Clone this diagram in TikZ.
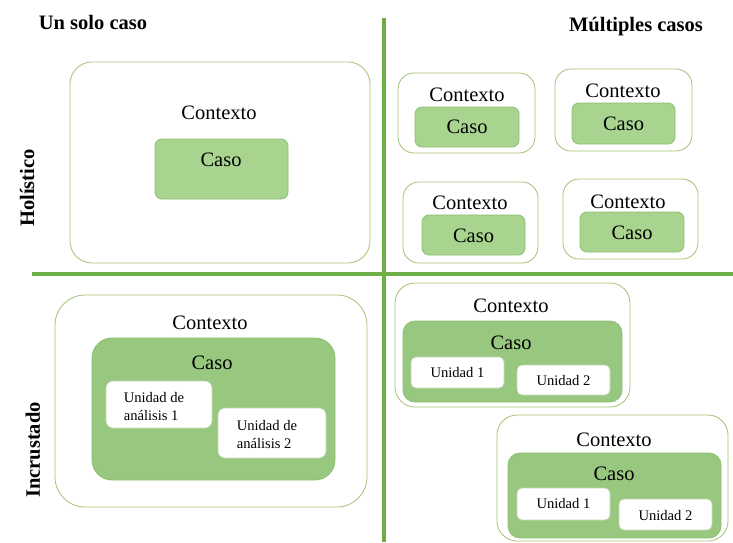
\documentclass[tikz,border=0pt]{standalone}
\usepackage{fontspec}
\setmainfont{Liberation Serif}
\definecolor{axisgreen}{HTML}{6DAE45}
\definecolor{ctxline}{HTML}{A3C274}
\definecolor{casofill}{HTML}{A8D490}
\definecolor{casoline}{HTML}{8CBF70}
\definecolor{casofilldeep}{HTML}{98C880}
\definecolor{unitline}{HTML}{BFD8AE}
\begin{document}
\begin{tikzpicture}[x=1pt,y=-1pt,
  ctx/.style={draw=ctxline, line width=0.8pt, fill=white, rounded corners=#1, inner sep=0pt},
  ctx/.default=16pt,
  caso/.style={draw=casoline, line width=0.8pt, fill=casofill, rounded corners=#1, inner sep=0pt},
  caso/.default=7pt,
  casodeep/.style={caso=#1, fill=casofilldeep},
  casodeep/.default=12pt,
  unitbox/.style={draw=unitline, line width=0.6pt, fill=white, rounded corners=5pt, inner sep=0pt},
  lbl/.style={font=\fontsize{20.5}{23}\selectfont, inner sep=0pt},
  ulbl/.style={font=\fontsize{14.6}{18}\selectfont, inner sep=0pt},
  head/.style={font=\fontsize{20.5}{23}\selectfont\bfseries, inner sep=0pt},
  axis/.style={draw=axisgreen, line width=4.5pt}
]
\useasboundingbox (0,0) rectangle (733,542);

% quadrant axes
\coordinate (vtop) at (384,18);
\coordinate (vbot) at (384,542);
\coordinate (hleft) at (32,274);
\coordinate (hright) at (733,274);
\draw[axis] (vtop) -- (vbot);
\draw[axis] (hleft) -- (hright);

% headings
\node[head] (h1) at (93,22) {Un solo caso};
\node[head] (h2) at (636,27) {Múltiples casos};
\node[head, rotate=90] (h3) at (27,188) {Holístico};
\node[head, rotate=90] (h4) at (33,450) {Incrustado};

% holistic, single case
\node[ctx=22pt, minimum width=300pt, minimum height=201pt] (c0) at (220,162.5) {};
\node[lbl] (c0t) at (219,113) {Contexto};
\node[caso, minimum width=133pt, minimum height=60pt] (k0) at (221.5,169) {};
\node[lbl] (k0t) at (221,160) {Caso};

% holistic, multiple cases
\node[ctx, minimum width=137pt, minimum height=80pt] (ca) at (466.5,113) {};
\node[lbl] (cat) at (467,95) {Contexto};
\node[caso, minimum width=104pt, minimum height=40pt] (ka) at (467,127) {};
\node[lbl] (kat) at (467,127) {Caso};

\node[ctx, minimum width=137pt, minimum height=82pt] (cb) at (623.5,110) {};
\node[lbl] (cbt) at (623,91) {Contexto};
\node[caso, minimum width=103pt, minimum height=41pt] (kb) at (623.5,123.5) {};
\node[lbl] (kbt) at (623.5,124) {Caso};

\node[ctx, minimum width=135pt, minimum height=81pt] (cc) at (470.5,222.5) {};
\node[lbl] (cct) at (470,203) {Contexto};
\node[caso, minimum width=103pt, minimum height=40pt] (kc) at (473.5,235) {};
\node[lbl] (kct) at (473.5,236) {Caso};

\node[ctx, minimum width=135pt, minimum height=80pt] (cd) at (630.5,219) {};
\node[lbl] (cdt) at (628,202) {Contexto};
\node[caso, minimum width=104pt, minimum height=40pt] (kd) at (632,232) {};
\node[lbl] (kdt) at (632,233) {Caso};

% embedded, single case
\node[ctx=30pt, minimum width=312pt, minimum height=212pt] (ce) at (211,401) {};
\node[lbl] (cet) at (210,323) {Contexto};
\node[casodeep=20pt, minimum width=243pt, minimum height=142pt] (ke) at (213.5,409) {};
\node[lbl] (ket) at (212,363) {Caso};
\node[unitbox, rounded corners=7pt, minimum width=106pt, minimum height=47pt] (ue1) at (159,404.5) {};
\node[ulbl, align=left] (ue1t) at (154,406) {Unidad de\\análisis 1};
\node[unitbox, rounded corners=7pt, minimum width=108pt, minimum height=50pt] (ue2) at (272,433) {};
\node[ulbl, align=left] (ue2t) at (267,434) {Unidad de\\análisis 2};

% embedded, multiple cases
\node[ctx=20pt, minimum width=235pt, minimum height=124pt] (cf) at (512.5,345) {};
\node[lbl] (cft) at (511,306) {Contexto};
\node[casodeep=12pt, minimum width=219pt, minimum height=81pt] (kf) at (512.5,361.5) {};
\node[lbl] (kft) at (511,343) {Caso};
\node[unitbox, minimum width=93pt, minimum height=31pt] (uf1) at (457.5,372.5) {};
\node[ulbl] (uf1t) at (457.5,372) {Unidad 1};
\node[unitbox, minimum width=93pt, minimum height=30pt] (uf2) at (563.5,380) {};
\node[ulbl] (uf2t) at (563.5,380) {Unidad 2};

\node[ctx=20pt, minimum width=231pt, minimum height=126pt] (cg) at (612.5,478) {};
\node[lbl] (cgt) at (614,440) {Contexto};
\node[casodeep=12pt, minimum width=213pt, minimum height=85pt] (kg) at (614.5,495.5) {};
\node[lbl] (kgt) at (614,474) {Caso};
\node[unitbox, minimum width=93pt, minimum height=32pt] (ug1) at (563.5,504) {};
\node[ulbl] (ug1t) at (563.5,503) {Unidad 1};
\node[unitbox, minimum width=93pt, minimum height=31pt] (ug2) at (665.5,514.5) {};
\node[ulbl] (ug2t) at (665.5,515) {Unidad 2};
\end{tikzpicture}
\end{document}
